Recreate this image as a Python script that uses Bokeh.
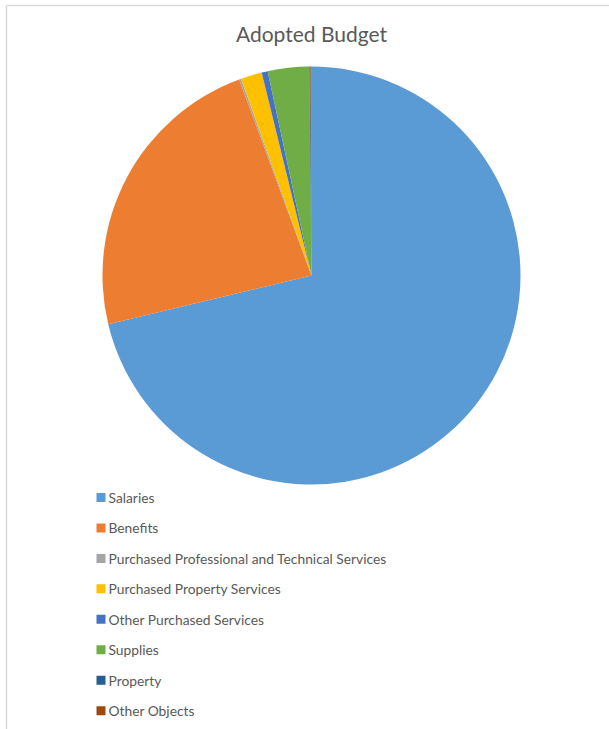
import numpy as np
from bokeh.plotting import figure
from bokeh.models import Range1d, ColumnDataSource
from bokeh.core.properties import value
from bokeh.embed import file_html
from bokeh.resources import INLINE

# ---- data (percent shares) ----
categories = [
    "Salaries",
    "Benefits",
    "Purchased Professional and Technical Services",
    "Purchased Property Services",
    "Other Purchased Services",
    "Supplies",
    "Property",
    "Other Objects",
]
shares = [71.2, 23.1, 0.15, 1.64, 0.47, 3.2, 0.08, 0.08]
colors = ["#5B9BD5", "#ED7D31", "#A5A5A5", "#FFC000", "#4472C4", "#70AD47", "#255E91", "#9E480E"]
title_text = "Adopted Budget"

W, H = 609, 729
FONT = "Lato"
TXT = "#595959"

p = figure(width=W, height=H, x_range=Range1d(0, W), y_range=Range1d(0, H),
           output_backend="svg", toolbar_location=None, min_border=0,
           x_axis_type=None, y_axis_type=None, outline_line_color=None)
p.grid.visible = False
p.background_fill_color = "white"
p.border_fill_color = "white"

# chart-area border (light gray, top and left)
p.line([6, W], [H - 5, H - 5], line_color="#D9D9D9", line_width=1.5)
p.line([6, 6], [H - 5, 0], line_color="#D9D9D9", line_width=1.5)

# pie
vals = np.array(shares, dtype=float)
frac = vals / vals.sum()
cum = np.concatenate([[0.0], np.cumsum(frac)])
start = np.pi / 2 - cum[:-1] * 2 * np.pi
end = np.pi / 2 - cum[1:] * 2 * np.pi
cx, cy, r = 311, H - 275, 209
src = ColumnDataSource(dict(start=start, end=end, color=colors, cat=categories))
p.wedge(x=cx, y=cy, radius=r, start_angle="start", end_angle="end", direction="clock",
        fill_color="color", line_color=None, source=src)

# title
p.text(x=[311], y=[H - 33], text=[title_text], text_align="center", text_baseline="middle",
       text_font=value(FONT), text_font_size="21px", text_color=TXT)

# legend
row_y = [H - (497 + i * 30.45) for i in range(len(categories))]
p.rect(x=[100.5] * len(categories), y=row_y, width=9, height=9, fill_color=colors, line_color=None)
p.text(x=[108] * len(categories), y=row_y, text=categories, text_align="left",
       text_baseline="middle", text_font=value(FONT), text_font_size="13.8px", text_color=TXT)

open("out.html", "w").write(file_html(p, INLINE))
